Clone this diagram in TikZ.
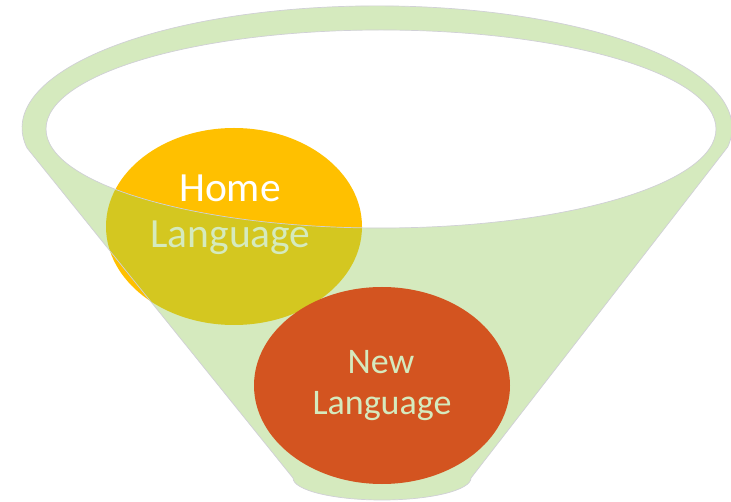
\documentclass[tikz,border=0pt]{standalone}
\usepackage{fontspec}
\setmainfont{Carlito}
\definecolor{fgreen}{RGB}{213,234,190}
\definecolor{hyellow}{RGB}{255,192,0}
\definecolor{holive}{RGB}{212,199,32}
\definecolor{norange}{RGB}{211,84,32}
\definecolor{edgegray}{RGB}{208,208,214}
\tikzset{
  bigtxt/.style={inner sep=0pt, anchor=base, font=\fontsize{41.5}{46}\selectfont},
  midtxt/.style={inner sep=0pt, anchor=base, font=\fontsize{36}{42}\selectfont, text=fgreen},
  rim/.style={draw=edgegray, line width=0.7pt}
}
\def\funnelpath{(27,353) arc[start angle=189.5, end angle=-9, x radius=355, y radius=122] -- (471,23) arc[start angle=0, end angle=-180, x radius=89, y radius=22] -- cycle}
\def\holepath{(381,372) ellipse[x radius=335, y radius=99]}
\begin{document}
\begin{tikzpicture}[x=1pt,y=1pt]
\useasboundingbox (0,0) rectangle (731,501);
% home language ellipse
\fill[hyellow] (234,274.5) ellipse[x radius=128, y radius=98.5];
% funnel with open top
\fill[fgreen, even odd rule] \funnelpath \holepath;
\begin{scope}
  \clip (234,274.5) ellipse[x radius=128, y radius=98.5];
  \fill[holive, even odd rule] \funnelpath \holepath;
\end{scope}
\draw[rim] \funnelpath;
\draw[rim] \holepath;
% new language ellipse
\fill[norange] (382,115.5) ellipse[x radius=128, y radius=98.5];
% labels
\node[bigtxt, text=white] (home) at (230,299) {Home};
\node[bigtxt, text=fgreen] (homelang) at (230.5,253) {Language};
\node[midtxt] (new) at (381,128) {New};
\node[midtxt] (newlang) at (382,86) {Language};
\end{tikzpicture}
\end{document}
